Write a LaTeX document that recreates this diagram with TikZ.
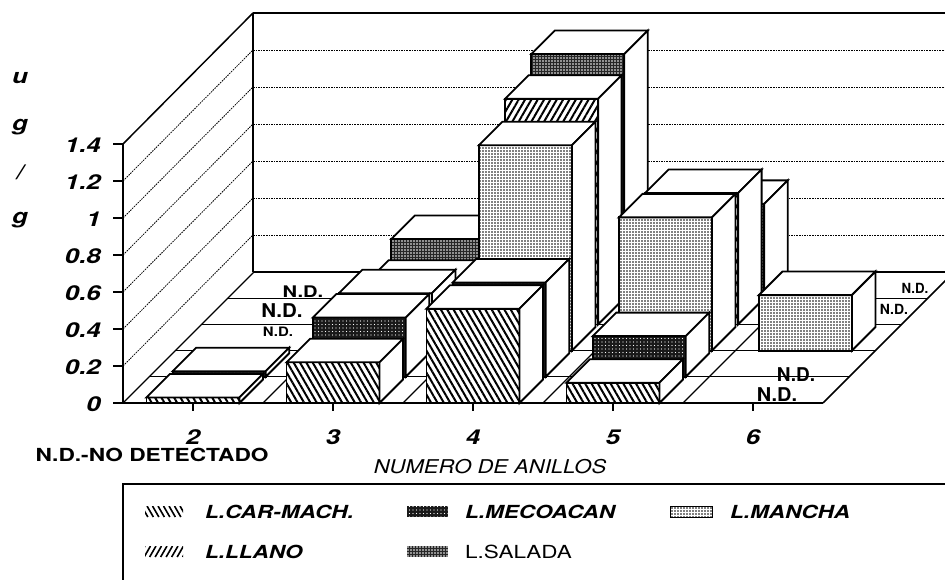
\documentclass[tikz,border=0pt]{standalone}
\usepackage{fontspec}
\setmainfont{TeX Gyre Heros}
\usepackage{graphicx}
\usetikzlibrary{patterns.meta}
\newcommand\sx[2][1.26]{\scalebox{#1}[1]{#2}}
\tikzset{
  barline/.style={line width=1.8pt, line join=miter},
  carmach/.style={fill=white, postaction={pattern={Lines[angle=-60,distance=5.5pt,line width=2pt]}, pattern color=black}},
  llano/.style={fill=white, postaction={pattern={Lines[angle=60,distance=5.5pt,line width=2pt]}, pattern color=black}},
  mecoacan/.style={fill=black!90, postaction={pattern={Dots[distance=3.5pt,radius=0.6pt]}, pattern color=white}},
  salada/.style={fill=black!85, postaction={pattern={Dots[distance=3pt,radius=0.95pt]}, pattern color=white}},
  mancha/.style={fill=white, postaction={pattern={Dots[distance=3pt,radius=0.9pt]}, pattern color=black}},
  gridln/.style={line width=0.8pt, dash pattern=on 1.6pt off 1pt},
  floorln/.style={line width=1.2pt},
  hatchln/.style={line width=1.6pt},
  ticklab/.style={font=\fontsize{20.5}{22}\selectfont\bfseries\itshape, inner sep=0pt},
  legtxt/.style={font=\fontsize{18}{20}\selectfont\bfseries\itshape, inner sep=0pt, anchor=west},
  ndlab/.style={font=\bfseries, inner sep=0pt},
}
\newcommand\drawbar[4]{%
  \pgfmathsetmacro\bxl{193+140*#1+26.2*#2-46.5}%
  \pgfmathsetmacro\bxr{\bxl+93}%
  \pgfmathsetmacro\byb{403-26.2*#2}%
  \pgfmathsetmacro\bh{185*#3}%
  \pgfmathsetmacro\byt{\byb-\bh}%
  \path[#4] (\bxl,\byb) rectangle (\bxr,\byt);
  \draw[barline] (\bxl,\byb) rectangle (\bxr,\byt);
  \filldraw[barline,fill=white] (\bxl,\byt) -- (\bxr,\byt) -- ++(23.5,-23.5) -- ++(-93,0) -- cycle;
  \filldraw[barline,fill=white] (\bxr,\byb) -- (\bxr,\byt) -- ++(23.5,-23.5) -- ++(0,\bh) -- cycle;
}
\begin{document}
\begin{tikzpicture}[x=1pt,y=-1pt]
\useasboundingbox (0,0) rectangle (945,580);
\fill[white] (0,0) rectangle (945,580);
\begin{scope}
\clip (0,0) rectangle (945,580);
% back wall grid
\foreach \k in {1,...,6} {
  \draw[gridln] (253,272-37*\k) -- (960,272-37*\k);
  \draw[gridln] (123,403-37*\k) -- (253,272-37*\k);
}
\draw[line width=1.5pt] (253,13) -- (960,13);
\draw[line width=1.5pt] (123,144) -- (253,13);
\draw[line width=1.5pt] (253,13) -- (253,272);
\draw[line width=1.5pt] (123,144) -- (123,403);
% floor grid
\foreach \k in {1,...,4} {
  \draw[floorln] (123+26.2*\k,403-26.2*\k) -- (823+26.2*\k,403-26.2*\k);
}
\draw[line width=1.5pt] (253,272) -- (960,272);
\foreach \i in {0,...,4} {
  \draw[floorln] (123+140*\i,403) -- (254+140*\i,272);
}
\draw[line width=1.5pt] (823,403) -- (954,272);
% y ticks
\foreach \k in {0,...,7} {
  \draw[line width=1.2pt] (113,403-37*\k) -- (123,403-37*\k);
}
% bars, back to front
\drawbar{1}{4}{0.32}{salada}
\drawbar{2}{4}{1.32}{salada}
\drawbar{3}{4}{0.51}{salada}
\drawbar{1}{3}{0.22}{llano}
\drawbar{2}{3}{1.22}{llano}
\drawbar{3}{3}{0.71}{llano}
\drawbar{1}{2}{0.31}{mancha}
\drawbar{2}{2}{1.11}{mancha}
\drawbar{3}{2}{0.72}{mancha}
\drawbar{4}{2}{0.30}{mancha}
\drawbar{0}{1}{0.03}{mecoacan}
\drawbar{1}{1}{0.32}{mecoacan}
\drawbar{2}{1}{0.51}{mecoacan}
\drawbar{3}{1}{0.22}{mecoacan}
\drawbar{0}{0}{0.03}{carmach}
\drawbar{1}{0}{0.22}{carmach}
\drawbar{2}{0}{0.51}{carmach}
\drawbar{3}{0}{0.11}{carmach}
% front axis
\draw[line width=1.8pt] (113,403) -- (823,403);
\foreach \i in {0,...,4} {
  \draw[line width=1.2pt] (193+140*\i,403) -- (193+140*\i,411);
}
% N.D. labels
\node[ndlab,font=\fontsize{16}{16}\selectfont\bfseries] (nd24) at (303,292) {\sx{N.D.}};
\node[ndlab,font=\fontsize{19}{19}\selectfont\bfseries] (nd23) at (282,311) {\sx[1.08]{N.D.}};
\node[ndlab,font=\fontsize{13}{13}\selectfont\bfseries] (nd22) at (278,332) {\sx[1.15]{N.D.}};
\node[ndlab,font=\fontsize{19}{19}\selectfont\bfseries] (nd60) at (777,395) {\sx[1.05]{N.D.}};
\node[ndlab,font=\fontsize{19}{19}\selectfont\bfseries] (nd61) at (796,375) {\sx[1.0]{N.D.}};
\node[ndlab,font=\fontsize{14}{14}\selectfont\bfseries] (nd63) at (894,309) {\sx[1.0]{N.D.}};
\node[ndlab,font=\fontsize{14}{14}\selectfont\bfseries] (nd64) at (915,288) {\sx[0.95]{N.D.}};
% legend frame
\draw[line width=1.5pt] (123,580) -- (123,484) -- (960,484);
\end{scope}
% y tick labels
\foreach \v/\k in {0/0,0.2/1,0.4/2,0.6/3,0.8/4,1/5,1.2/6,1.4/7} {
  \node[ticklab,anchor=east] (yl\k) at (101,404-37*\k) {\sx{\v}};
}
% y title
\node[ticklab] (yt1) at (20,78) {\sx{u}};
\node[ticklab] (yt2) at (20,127) {\sx{g}};
\node[ticklab] (yt3) at (20,172) {\sx{/}};
\node[ticklab] (yt4) at (20,220) {\sx{g}};
% x tick labels
\foreach \n [count=\i from 0] in {2,3,4,5,6} {
  \node[ticklab] (xl\n) at (193+140*\i,437) {\sx{\n}};
}
\node[inner sep=0pt,font=\fontsize{18}{20}\selectfont\bfseries] (ndnote) at (152,455) {\sx{N.D.-NO DETECTADO}};
\node[inner sep=0pt,font=\fontsize{19}{20}\selectfont\itshape] (xtitle) at (490,467) {\sx[1.16]{NUMERO DE ANILLOS}};
% legend swatches
\begin{scope}
\clip (145,506) rectangle (183,517);
\foreach \x in {136,141.5,...,184} { \draw[hatchln] (\x,506) -- (\x+6.35,517); }
\end{scope}
\begin{scope}
\clip (145,546) rectangle (183,557);
\foreach \x in {145,150.5,...,192} { \draw[hatchln] (\x,546) -- (\x-6.35,557); }
\end{scope}
\path[mecoacan] (407,506) rectangle (448,517);
\path[salada] (407,546) rectangle (448,557);
\path[mancha] (670,506) rectangle (712,517);
\draw[line width=0.6pt] (670,506) rectangle (712,517);
\node[legtxt] (lg1) at (205,512) {\sx[1.25]{L.CAR-MACH.}};
\node[legtxt] (lg2) at (205,552) {\sx[1.25]{L.LLANO}};
\node[legtxt] (lg3) at (465,512) {\sx[1.25]{L.MECOACAN}};
\node[legtxt,font=\fontsize{18}{20}\selectfont] (lg4) at (465,552) {\sx[1.25]{L.SALADA}};
\node[legtxt] (lg5) at (730,512) {\sx[1.25]{L.MANCHA}};
\end{tikzpicture}
\end{document}
